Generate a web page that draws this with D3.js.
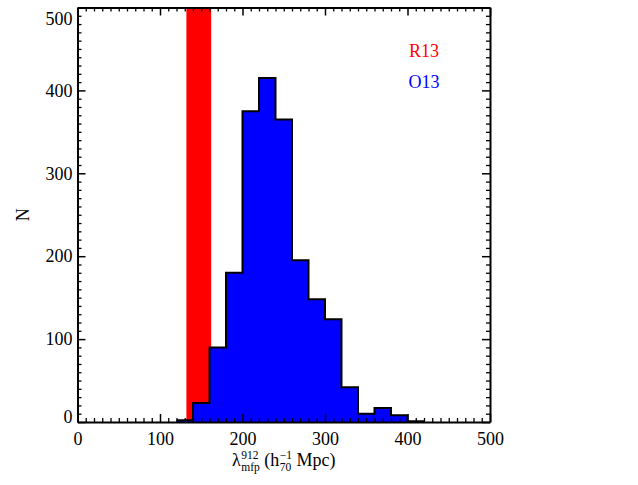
<!DOCTYPE html>
<html>
<head>
<meta charset="utf-8">
<script src="https://cdn.jsdelivr.net/npm/d3@7"></script>
<style>
  body { margin: 0; background: #fff; }
  svg text { font-family: "Liberation Serif", "Times New Roman", serif; fill: #000; white-space: pre; }
</style>
</head>
<body>
<div id="chart"></div>
<script>
// histogram of lambda_mfp (bin left edges, width 20) and counts
const binLeft = [120, 140, 160, 180, 200, 220, 240, 260, 280, 300, 320, 340, 360, 380, 400];
const binWidth = 20;
const counts = [2, 23, 90, 180, 375, 415, 365, 195, 148, 124, 42, 10, 17, 8, 1];

// R13 band (147 +/- 15)
const r13Range = [132, 162];

const xTicks = [0, 100, 200, 300, 400, 500];
const yTicks = [0, 100, 200, 300, 400, 500];
const minorTicks = [10, 20, 30, 40, 50, 60, 70, 80, 90, 110, 120, 130, 140, 150, 160, 170, 180, 190,
    210, 220, 230, 240, 250, 260, 270, 280, 290, 310, 320, 330, 340, 350, 360, 370, 380, 390,
    410, 420, 430, 440, 450, 460, 470, 480, 490];

const legendLabels = ["R13", "O13"];
const legendColors = ["#ff0000", "#0000ff"];

const width = 638, height = 485;
const margin = { top: 7.5, right: 148, bottom: 63, left: 77.5 };
const serif = "'Liberation Serif', 'Times New Roman', serif";

const svg = d3.select("#chart").append("svg")
    .attr("width", width)
    .attr("height", height);

const x = d3.scaleLinear()
    .domain([0, 500])
    .range([margin.left, width - margin.right]);

const y = d3.scaleLinear()
    .domain([0, 500])
    .range([height - margin.bottom, margin.top]);

// R13 band
svg.append("rect")
    .attr("x", x(r13Range[0]))
    .attr("y", y(500))
    .attr("width", x(r13Range[1]) - x(r13Range[0]))
    .attr("height", y(0) - y(500))
    .attr("fill", "#ff0000");

// histogram: filled step shape + outline
const fillPts = [[binLeft[0], 0]];
const linePts = [];
binLeft.forEach((b, i) => {
    fillPts.push([b, counts[i]], [b + binWidth, counts[i]]);
    linePts.push([b, counts[i]], [b + binWidth, counts[i]]);
});
fillPts.push([binLeft[binLeft.length - 1] + binWidth, 0]);

const line = d3.line().x(d => x(d[0])).y(d => y(d[1]));

svg.append("path")
    .attr("d", line(fillPts) + "Z")
    .attr("fill", "#0000ff");

svg.append("path")
    .attr("d", line(linePts))
    .attr("fill", "none")
    .attr("stroke", "#000")
    .attr("stroke-width", 2)
    .attr("stroke-linejoin", "miter");

// axes, ticks inward on all four sides
const majorLen = 8, minorLen = 4;
const axes = [
    { axis: d3.axisBottom(x), t: [0, y(0)], labels: true, ticks: xTicks, name: "xb" },
    { axis: d3.axisTop(x), t: [0, y(500)], labels: false, ticks: xTicks, name: "xt" },
    { axis: d3.axisLeft(y), t: [x(0), 0], labels: true, ticks: yTicks, name: "yl" },
    { axis: d3.axisRight(y), t: [x(500), 0], labels: false, ticks: yTicks, name: "yr" }
];

axes.forEach(a => {
    const g = svg.append("g")
        .attr("transform", "translate(" + a.t[0] + "," + a.t[1] + ")");
    g.call(a.axis.tickValues(minorTicks).tickSize(-minorLen).tickSizeOuter(0).tickFormat(""));
    g.selectAll(".domain").remove();
    g.selectAll("line").attr("stroke-width", 1.3);
    const gm = svg.append("g")
        .attr("class", "axis-" + a.name)
        .attr("transform", "translate(" + a.t[0] + "," + a.t[1] + ")");
    gm.call(a.axis.tickValues(a.ticks)
        .tickSize(-majorLen).tickSizeOuter(0)
        .tickFormat(a.labels ? d3.format("d") : ""));
    gm.attr("font-family", serif).attr("font-size", 18);
    gm.select(".domain").attr("stroke-width", 2);
    gm.selectAll("line").attr("stroke-width", 1.5);
    gm.selectAll("text")
        .style("font-size", "18px")
        .style("font-family", serif);
});

// x tick labels
svg.select(".axis-xb").selectAll("text").attr("y", 10).attr("dy", "0.71em");

// y tick labels nudged inside at the ends
svg.select(".axis-yl").selectAll("text")
    .attr("x", -5)
    .attr("dy", d => d === 500 ? "0.95em" : d === 0 ? "0.05em" : "0.32em");

// y label
svg.append("text")
    .attr("transform", "translate(29," + ((y(0) + y(500)) / 2) + ") rotate(-90)")
    .attr("text-anchor", "middle")
    .style("font-size", "18px")
    .text("N");

// x label built from pieces
const xl = svg.append("g");
let cx = 0;
function piece(txt, size, dy, advance) {
    const t = xl.append("text")
        .attr("x", cx)
        .attr("y", dy)
        .style("font-size", size + "px")
        .text(txt);
    const w = t.node().getComputedTextLength();
    if (advance) cx += w;
    return w;
}
function stack(sup, sub) {
    const w1 = piece(sup, 11.5, -7, false);
    const w2 = piece(sub, 11.5, 4.5, false);
    cx += Math.max(w1, w2);
}
piece("\u03bb", 18, 0, true);
cx += 0.5;
stack("912", "mfp");
piece("\u00a0(h", 18, 0, true);
cx += 0.5;
stack("\u22121", "70");
piece("\u00a0Mpc)", 18, 0, true);
xl.attr("transform", "translate(" + ((x(0) + x(500)) / 2 - cx / 2) + ",466)");

// legend
legendLabels.forEach((l, i) => {
    svg.append("text")
        .attr("x", 424)
        .attr("y", 57 + i * 31)
        .attr("text-anchor", "middle")
        .style("fill", legendColors[i])
        .style("font-size", "18px")
        .text(l);
});
</script>
</body>
</html>
